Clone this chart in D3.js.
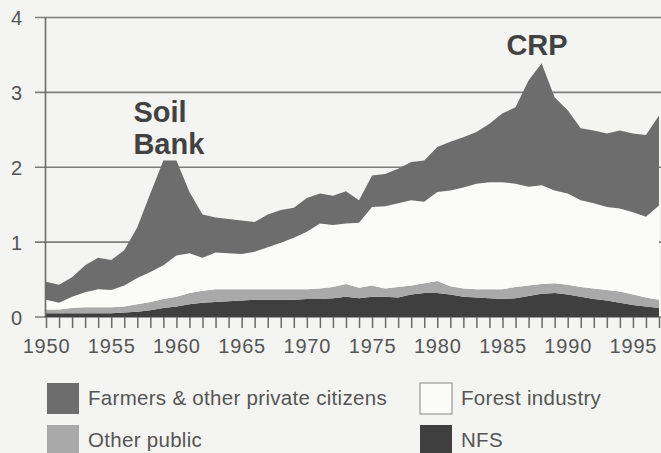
<!DOCTYPE html>
<html>
<head>
<meta charset="utf-8">
<script src="https://cdn.jsdelivr.net/npm/d3@7/dist/d3.min.js"></script>
<style>
  html, body { margin: 0; padding: 0; background: #f4f4f2; }
  svg { display: block; }
  text { font-family: "Liberation Sans", Arial, Helvetica, sans-serif; }
</style>
</head>
<body>
<svg id="chart" width="661" height="453"></svg>
<script>
// ---- data (millions of acres planted) ----
const years = [1950,1951,1952,1953,1954,1955,1956,1957,1958,1959,
               1960,1961,1962,1963,1964,1965,1966,1967,1968,1969,
               1970,1971,1972,1973,1974,1975,1976,1977,1978,1979,
               1980,1981,1982,1983,1984,1985,1986,1987,1988,1989,
               1990,1991,1992,1993,1994,1995,1996,1997];

const nfs = [0.05,0.05,0.05,0.05,0.05,0.05,0.06,0.07,0.09,0.12,
             0.14,0.17,0.19,0.20,0.21,0.22,0.23,0.23,0.23,0.23,
             0.24,0.24,0.25,0.27,0.25,0.27,0.27,0.26,0.30,0.32,
             0.32,0.30,0.27,0.26,0.25,0.24,0.25,0.28,0.31,0.32,
             0.30,0.27,0.24,0.22,0.19,0.16,0.14,0.12];

const otherPublic = [0.05,0.05,0.07,0.08,0.08,0.08,0.08,0.10,0.11,0.12,
                     0.13,0.15,0.16,0.17,0.16,0.15,0.14,0.14,0.14,0.14,
                     0.13,0.14,0.15,0.17,0.14,0.15,0.11,0.14,0.12,0.13,
                     0.16,0.11,0.11,0.11,0.12,0.13,0.15,0.14,0.13,0.13,
                     0.13,0.13,0.14,0.14,0.15,0.14,0.12,0.11];

const forestIndustry = [0.13,0.09,0.15,0.20,0.24,0.23,0.28,0.35,0.40,0.45,
                        0.55,0.53,0.44,0.49,0.48,0.47,0.50,0.56,0.62,0.69,
                        0.77,0.87,0.83,0.81,0.87,1.05,1.10,1.12,1.14,1.09,
                        1.19,1.28,1.35,1.41,1.43,1.43,1.38,1.32,1.32,1.24,
                        1.22,1.16,1.14,1.11,1.11,1.10,1.08,1.26];

const farmers = [0.24,0.24,0.26,0.36,0.42,0.40,0.47,0.68,1.05,1.40,
                 1.27,0.82,0.58,0.47,0.46,0.45,0.40,0.44,0.44,0.40,
                 0.45,0.40,0.39,0.43,0.30,0.42,0.43,0.46,0.51,0.55,
                 0.60,0.65,0.67,0.69,0.78,0.92,1.02,1.42,1.63,1.24,
                 1.11,0.96,0.97,0.98,1.04,1.05,1.09,1.20];

const yTicks = [0,1,2,3,4];
const xLabelYears = [1950,1955,1960,1965,1970,1975,1980,1985,1990,1995];

const seriesKeys = ["nfs","otherPublic","forestIndustry","farmers"];
const seriesNames = {
  farmers: "Farmers & other private citizens",
  forestIndustry: "Forest industry",
  otherPublic: "Other public",
  nfs: "NFS"
};
const annotations = [
  {lines: ["Soil", "Bank"], year: 1956.7, value: 2.6},
  {lines: ["CRP"], year: 1985.3, value: 3.5}
];

// ---- styles ----
const colors = {
  farmers: "#6d6d6d",
  forestIndustry: "#fbfbfa",
  otherPublic: "#a9a9a9",
  nfs: "#3f3f3f"
};

// ---- build table ----
const table = years.map((yr, i) => ({
  year: yr,
  nfs: nfs[i],
  otherPublic: otherPublic[i],
  forestIndustry: forestIndustry[i],
  farmers: farmers[i]
}));

const svg = d3.select("#chart");
const W = 661, H = 453;

const x = d3.scaleLinear().domain([1950, 1997]).range([46, 659]);
const y = d3.scaleLinear().domain([0, 4]).range([317, 17.5]);

// gridlines
svg.append("g")
  .selectAll("line")
  .data(yTicks)
  .join("line")
  .attr("x1", 35).attr("x2", W)
  .attr("y1", d => y(d)).attr("y2", d => y(d))
  .attr("stroke", "#7e7e7e")
  .attr("stroke-width", 1.6);

// stacked areas
const stack = d3.stack().keys(seriesKeys);
const layers = stack(table);
const area = d3.area()
  .x(d => x(d.data.year))
  .y0(d => y(d[0]))
  .y1(d => y(d[1]));

svg.append("g")
  .selectAll("path")
  .data(layers)
  .join("path")
  .attr("d", area)
  .attr("fill", d => colors[d.key]);

// left axis line
svg.append("line")
  .attr("x1", 45.5).attr("x2", 45.5)
  .attr("y1", y(4)).attr("y2", y(0) + 1)
  .attr("stroke", "#6a6a6a").attr("stroke-width", 1.6);

// y axis labels
const yAxis = d3.axisLeft(y).tickValues(yTicks).tickSize(0).tickPadding(0).tickFormat(d3.format("d"));
const gy = svg.append("g").attr("transform", "translate(22,0)").call(yAxis);
gy.select(".domain").remove();
gy.selectAll("text")
  .attr("font-size", 20)
  .attr("fill", "#555")
  .attr("font-family", "Liberation Sans, Arial, sans-serif")
  .attr("dy", "0.36em");

// x axis: ticks every year, labels every 5
const xAxis = d3.axisBottom(x)
  .tickValues(years)
  .tickSize(11)
  .tickFormat(d => xLabelYears.includes(d) ? String(d) : "");
const gx = svg.append("g").attr("transform", `translate(0,${y(0)})`).call(xAxis);
gx.select(".domain").remove();
gx.selectAll(".tick line").attr("stroke", "#6a6a6a").attr("stroke-width", 1.5);
gx.selectAll(".tick text")
  .attr("font-size", 20)
  .attr("letter-spacing", 0.8)
  .attr("fill", "#555")
  .attr("font-family", "Liberation Sans, Arial, sans-serif")
  .attr("y", 22)
  .attr("dy", "0.71em");

// annotations
annotations.forEach(a => {
  const t = svg.append("text")
    .attr("x", x(a.year))
    .attr("y", y(a.value))
    .attr("font-size", 29)
    .attr("font-weight", "bold")
    .attr("fill", "#424242");
  a.lines.forEach((ln, i) => {
    t.append("tspan").attr("x", x(a.year)).attr("dy", i === 0 ? 0 : 32).text(ln);
  });
});

// legend
const legendItems = [
  {key: "farmers", col: 0, row: 0},
  {key: "forestIndustry", col: 1, row: 0},
  {key: "otherPublic", col: 0, row: 1},
  {key: "nfs", col: 1, row: 1}
];
const lg = svg.append("g");
const colX = [47, 420], rowY = [383, 425];
legendItems.forEach(it => {
  const gx0 = colX[it.col], gy0 = rowY[it.row];
  lg.append("rect")
    .attr("x", gx0).attr("y", gy0)
    .attr("width", 32).attr("height", 31)
    .attr("fill", colors[it.key])
    .attr("stroke", it.key === "forestIndustry" ? "#9a9a9a" : "none")
    .attr("stroke-width", 1.2);
  lg.append("text")
    .attr("x", gx0 + 41).attr("y", gy0 + 15)
    .attr("dy", "0.35em")
    .attr("font-size", 20.5)
    .attr("letter-spacing", 0.3)
    .attr("fill", "#555")
    .text(seriesNames[it.key]);
});
</script>
</body>
</html>
